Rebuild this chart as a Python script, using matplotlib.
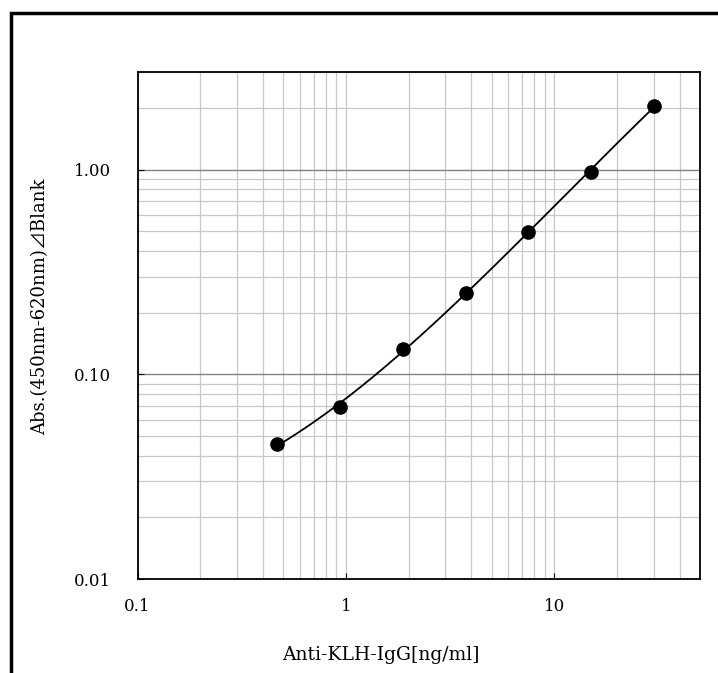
import numpy as np
import matplotlib.pyplot as plt
from matplotlib.patches import Rectangle
from matplotlib.ticker import FixedLocator, FixedFormatter, NullFormatter, LogLocator

# ------------------------
# Data
# ------------------------
conc = [0.469, 0.938, 1.875, 3.75, 7.5, 15, 30]          # ng/ml
absorb = [0.0456, 0.0691, 0.133, 0.251, 0.496, 0.977, 2.04]

x_ticks = [0.1, 1, 10]
x_tick_labels = ["0.1", "1", "10"]
y_ticks = [0.01, 0.1, 1.0]
y_tick_labels = ["0.01", "0.10", "1.00"]

FONT = ["DejaVu Serif", "Noto Sans CJK JP"]
plt.rcParams['font.family'] = FONT

fig = plt.figure(figsize=(7.18, 6.73), dpi=100)
ax = fig.add_axes([137.5 / 718, 1 - 579 / 673, (700 - 137.5) / 718, (579 - 72) / 673])

# fitted smooth curve in log-log space (through the points)
lx, ly = np.log10(conc), np.log10(absorb)
coef = np.polyfit(lx, ly, 3)
xs = np.linspace(lx[0], lx[-1], 200)
ax.plot(10 ** xs, 10 ** np.polyval(coef, xs), color="black", lw=1.3, zorder=3)
ax.plot(conc, absorb, "o", color="black", markersize=9.5, zorder=4)

ax.set_xscale("log")
ax.set_yscale("log")
ax.set_xlim(0.1, 50)
ax.set_ylim(0.01, 3)

# grid
ax.xaxis.set_minor_locator(LogLocator(base=10, subs=np.arange(2, 10)))
ax.yaxis.set_minor_locator(LogLocator(base=10, subs=np.arange(2, 10)))
ax.grid(True, which="minor", axis="both", color="#c8c8c8", lw=0.9)
ax.grid(True, which="major", axis="x", color="#c8c8c8", lw=0.9)
ax.grid(True, which="major", axis="y", color="#808080", lw=1.0)
ax.set_axisbelow(True)

ax.xaxis.set_major_locator(FixedLocator(x_ticks))
ax.xaxis.set_major_formatter(FixedFormatter(x_tick_labels))
ax.yaxis.set_major_locator(FixedLocator(y_ticks))
ax.yaxis.set_major_formatter(FixedFormatter(y_tick_labels))
ax.xaxis.set_minor_formatter(NullFormatter())
ax.yaxis.set_minor_formatter(NullFormatter())
ax.tick_params(which="major", direction="in", length=4, width=0.8, labelsize=12)
ax.tick_params(axis="x", which="major", pad=14)
ax.tick_params(axis="y", which="major", pad=19)
ax.tick_params(which="minor", length=0)

for s in ax.spines.values():
    s.set_linewidth(1.3)
    s.set_color("black")

fig.text(381 / 718, 1 - 655 / 673, "Anti-KLH-IgG[ng/ml]", ha="center", va="center",
         fontsize=13.5, family=FONT)
fig.text(40 / 718, 1 - 307 / 673, "Abs.(450nm-620nm)⊿Blank", ha="center", va="center",
         rotation=90, fontsize=13, family=FONT)

# outer frame (cut off at right and bottom)
fig.patches.append(Rectangle((11 / 718, -0.05), 1.1, 1 - 13 / 673 + 0.05,
                             transform=fig.transFigure, fill=False,
                             edgecolor="black", lw=2.5))

fig.savefig("out.png", dpi=100)
